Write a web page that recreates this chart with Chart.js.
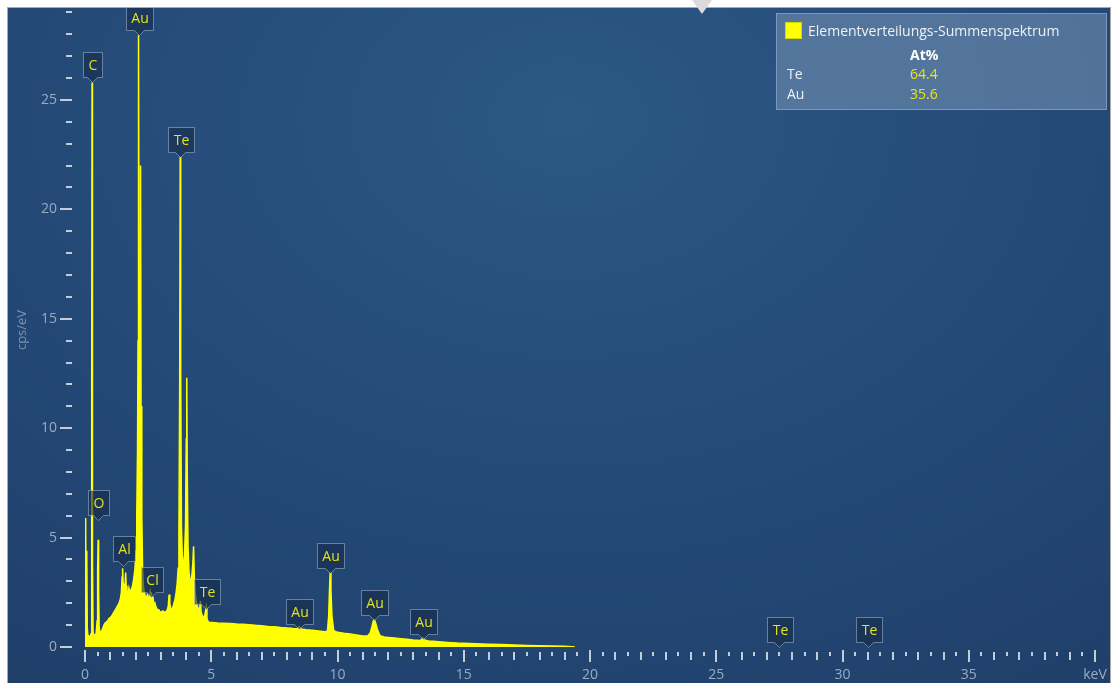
<!DOCTYPE html>
<html>
<head>
<meta charset="utf-8">
<title>Elementverteilungs-Summenspektrum</title>
<script src="https://cdn.jsdelivr.net/npm/chart.js@4/dist/chart.umd.min.js"></script>
<style>
  html, body { margin: 0; padding: 0; background: #ffffff; }
  body { width: 1113px; height: 683px; position: relative; overflow: hidden;
         font-family: "Open Sans", "Noto Sans", sans-serif; }
  #panel { position: absolute; left: 8px; top: 8px; width: 1102px; height: 675px;
           background: radial-gradient(ellipse 950px 700px at 560px 110px, #2b5884 0%, #264d7c 40%, #1f3f69 100%);
           box-shadow: 0 0 0 1px #a9a9a9; }
  #spectrum { position: absolute; left: 0; top: 0; }
  #legend { position: absolute; left: 768px; top: 5px; width: 329px; height: 95px;
            background: rgba(112, 140, 174, 0.62); border: 1px solid rgba(160, 180, 205, 0.55);
            color: #eef2f7; font-size: 14px; }
  #legend .sw { position: absolute; left: 8px; top: 8px; width: 15px; height: 15px;
                background: #ffff00; border: 1px solid #d6d600; }
  #legend .t { position: absolute; white-space: nowrap; line-height: 18px; }
  #legend .y { color: #e6e61c; }
  #legend .b { font-weight: bold; color: #ffffff; }
  #pointer { position: absolute; left: 692px; top: 0; width: 0; height: 0;
             border-left: 10px solid transparent; border-right: 10px solid transparent;
             border-top: 14px solid #dadada; }
</style>
</head>
<body>
<div id="panel">
  <canvas id="spectrum" width="1102" height="675"></canvas>
  <div id="legend">
    <div class="sw"></div>
    <div class="t" style="left:31px;top:8px;">Elementverteilungs-Summenspektrum</div>
    <div class="t b" style="left:133px;top:32px;">At%</div>
    <div class="t" style="left:10px;top:51px;">Te</div>
    <div class="t y" style="left:133px;top:51px;">64.4</div>
    <div class="t" style="left:10px;top:71px;">Au</div>
    <div class="t y" style="left:133px;top:71px;">35.6</div>
  </div>
</div>
<div id="pointer"></div>

<script>
// EDS sum spectrum: energy (keV) and intensity (cps/eV)
const energyKeV = [
  0.00, 0.02, 0.03, 0.05, 0.07, 0.09, 0.12, 0.16, 0.20, 0.24,
  0.26, 0.27, 0.28, 0.29, 0.30, 0.32, 0.36, 0.40, 0.44, 0.48,
  0.50, 0.52, 0.54, 0.56, 0.60, 0.65, 0.70, 0.75, 0.80, 0.85,
  0.90, 0.95, 1.00, 1.05, 1.10, 1.15, 1.20, 1.25, 1.30, 1.35,
  1.40, 1.44, 1.47, 1.49, 1.51, 1.54, 1.58, 1.61, 1.63, 1.66,
  1.70, 1.74, 1.78, 1.82, 1.86, 1.90, 1.94, 1.98, 2.02, 2.05,
  2.08, 2.10, 2.12, 2.14, 2.16, 2.18, 2.20, 2.22, 2.25, 2.28,
  2.31, 2.35, 2.39, 2.43, 2.47, 2.51, 2.55, 2.58, 2.61, 2.63,
  2.66, 2.69, 2.73, 2.77, 2.82, 2.87, 2.92, 2.97, 3.02, 3.08,
  3.14, 3.20, 3.26, 3.30, 3.33, 3.36, 3.40, 3.45, 3.50, 3.55,
  3.60, 3.65, 3.69, 3.72, 3.75, 3.77, 3.79, 3.82, 3.86, 3.90,
  3.94, 3.98, 4.01, 4.03, 4.05, 4.08, 4.12, 4.17, 4.22, 4.27,
  4.30, 4.33, 4.37, 4.42, 4.47, 4.52, 4.55, 4.57, 4.60, 4.65,
  4.70, 4.75, 4.80, 4.83, 4.88, 4.95, 5.05, 5.25, 5.50, 5.75,
  6.00, 6.25, 6.50, 6.75, 7.00, 7.25, 7.50, 7.75, 8.00, 8.25,
  8.42, 8.49, 8.56, 8.75, 9.00, 9.25, 9.50, 9.60, 9.65, 9.68,
  9.71, 9.74, 9.78, 9.85, 10.00, 10.25, 10.50, 10.75, 11.00, 11.20,
  11.30, 11.37, 11.42, 11.46, 11.51, 11.58, 11.68, 11.85, 12.00, 12.25,
  12.50, 12.75, 13.00, 13.25, 13.33, 13.38, 13.44, 13.60, 13.80, 14.00,
  14.25, 14.50, 14.75, 15.00, 15.50, 16.00, 16.50, 17.00, 17.50, 18.00,
  18.50, 19.00, 19.40
];
const countsPerEV = [
  0.2, 2.5, 5.9, 0.8, 4.4, 0.9, 0.4, 0.5, 0.45, 0.6,
  3.0, 12.0, 25.8, 15.0, 4.0, 0.7, 0.5, 0.55, 0.6, 1.2,
  3.5, 4.9, 2.6, 0.9, 0.65, 0.7, 0.85, 1.0, 1.1, 1.15,
  1.2, 1.3, 1.35, 1.4, 1.5, 1.6, 1.7, 1.8, 1.9, 2.0,
  2.2, 2.5, 3.2, 3.6, 2.9, 2.4, 2.6, 3.4, 2.8, 2.3,
  2.4, 2.7, 2.5, 2.6, 2.7, 2.9, 3.2, 3.6, 4.4, 6.0,
  9.0, 14.0, 27.95, 17.0, 9.0, 12.0, 22.0, 11.0, 6.0, 3.6,
  2.8, 2.5, 2.3, 2.2, 2.4, 2.2, 2.3, 2.5, 2.2, 2.5,
  2.1, 2.3, 1.9, 2.0, 1.8, 1.7, 1.7, 1.6, 1.6, 1.65,
  1.6, 1.6, 1.7, 1.9, 2.4, 2.0, 1.7, 1.75, 1.9, 2.1,
  2.4, 2.9, 3.6, 5.5, 12.0, 22.4, 12.5, 5.5, 3.9, 3.8,
  4.2, 5.5, 9.5, 12.3, 8.0, 4.6, 3.4, 3.0, 3.1, 3.8,
  4.6, 3.2, 2.4, 2.0, 1.8, 1.7, 1.9, 2.1, 1.6, 1.4,
  1.35, 1.5, 1.8, 1.3, 1.15, 1.12, 1.12, 1.10, 1.09, 1.07,
  1.05, 1.04, 1.02, 0.99, 0.97, 0.94, 0.92, 0.89, 0.87, 0.84,
  0.83, 0.93, 0.82, 0.79, 0.76, 0.73, 0.70, 0.72, 1.4, 2.5,
  3.4, 2.6, 1.4, 0.75, 0.67, 0.63, 0.60, 0.55, 0.50, 0.50,
  0.65, 0.95, 1.2, 1.25, 1.1, 0.8, 0.52, 0.46, 0.44, 0.41,
  0.38, 0.35, 0.32, 0.30, 0.33, 0.42, 0.32, 0.28, 0.26, 0.24,
  0.22, 0.20, 0.18, 0.17, 0.15, 0.13, 0.11, 0.09, 0.07, 0.06,
  0.05, 0.03, 0.0
];

// Element line markers: symbol, line energy (keV), marker tip height (cps/eV)
const markerElements = ['C', 'O', 'Al', 'Au', 'Cl', 'Te', 'Te', 'Au', 'Au', 'Au', 'Au', 'Te', 'Te'];
const markerEnergy   = [0.277, 0.525, 1.486, 2.12, 2.62, 3.77, 4.80, 8.49, 9.71, 11.44, 13.38, 27.47, 31.0];
const markerHeight   = [25.8, 5.8, 3.7, 27.95, 2.3, 22.4, 1.75, 0.8, 3.4, 1.25, 0.35, 0.0, 0.0];

// Axis ticks
const xMajorTicks  = [0, 5, 10, 15, 20, 25, 30, 35, 40];
const xTickLabels  = ['0', '5', '10', '15', '20', '25', '30', '35', 'keV'];
const xMinorStep   = 0.5;
const yMajorTicks  = [0, 5, 10, 15, 20, 25];
const yTickLabels  = ['0', '5', '10', '15', '20', '25'];
const yMinorStep   = 1;
const yAxisTitle   = 'cps/eV';

const FONT = '"Open Sans", "Noto Sans", sans-serif';

const axisPlugin = {
  id: 'edsAxes',
  afterDraw(chart) {
    const { ctx, chartArea, scales: { x, y } } = chart;
    ctx.save();
    ctx.fillStyle = '#c3ccd9';
    // y ticks
    for (let v = 0; v <= y.max + 1e-9; v += yMinorStep) {
      const py = Math.round(y.getPixelForValue(v));
      const major = yMajorTicks.includes(Math.round(v * 100) / 100);
      if (major) ctx.fillRect(chartArea.left - 25, py - 1, 12, 2);
      else ctx.fillRect(chartArea.left - 19, py - 1, 6, 2);
    }
    // x ticks
    const base = Math.round(y.getPixelForValue(0));
    for (let v = 0; v <= x.max + 1e-9; v += xMinorStep) {
      const px = Math.round(x.getPixelForValue(v));
      const r = Math.round(v * 100) / 100;
      if (xMajorTicks.includes(r)) ctx.fillRect(px - 1, base + 3, 2, 12);
      else if (Number.isInteger(r)) ctx.fillRect(px - 1, base + 5, 2, 8);
      else ctx.fillRect(px - 1, base + 5, 2, 4);
    }
    // tick labels
    ctx.fillStyle = '#9aabc2';
    ctx.font = '14px ' + FONT;
    ctx.textAlign = 'right';
    ctx.textBaseline = 'middle';
    yMajorTicks.forEach((v, i) => {
      ctx.fillText(yTickLabels[i], chartArea.left - 28, y.getPixelForValue(v));
    });
    ctx.textAlign = 'center';
    xMajorTicks.forEach((v, i) => {
      ctx.fillText(xTickLabels[i], x.getPixelForValue(v), base + 28);
    });
    // axis title
    ctx.fillStyle = '#7f93ae';
    ctx.font = '13px ' + FONT;
    ctx.translate(14, 322);
    ctx.rotate(-Math.PI / 2);
    ctx.fillText(yAxisTitle, 0, 0);
    ctx.restore();
  }
};

const markerPlugin = {
  id: 'elementMarkers',
  afterDatasetsDraw(chart) {
    const { ctx, scales: { x, y } } = chart;
    ctx.save();
    ctx.font = '14px ' + FONT;
    markerElements.forEach((el, i) => {
      const px = Math.round(x.getPixelForValue(markerEnergy[i])) + 0.5;
      const tip = Math.round(y.getPixelForValue(markerHeight[i])) + 0.5;
      const w = Math.max(18, Math.round(ctx.measureText(el).width) + 10);
      const h = 25;
      const bottom = tip - 5;
      const top = bottom - h;
      const l = Math.round(px - w / 2) + 0.5;
      const r = l + w;
      ctx.beginPath();
      ctx.moveTo(l, top);
      ctx.lineTo(r, top);
      ctx.lineTo(r, bottom);
      ctx.lineTo(px + 5, bottom);
      ctx.lineTo(px, tip);
      ctx.lineTo(px - 5, bottom);
      ctx.lineTo(l, bottom);
      ctx.closePath();
      ctx.fillStyle = 'rgba(22, 44, 74, 0.62)';
      ctx.fill();
      ctx.strokeStyle = 'rgba(180, 198, 222, 0.5)';
      ctx.lineWidth = 1;
      ctx.stroke();
      ctx.fillStyle = '#e2e21e';
      ctx.textAlign = 'center';
      ctx.textBaseline = 'middle';
      ctx.fillText(el, (l + r) / 2, (top + bottom) / 2 + 1);
    });
    ctx.restore();
  }
};

new Chart(document.getElementById('spectrum'), {
  type: 'line',
  data: {
    datasets: [{
      label: 'Elementverteilungs-Summenspektrum',
      data: energyKeV.map((e, i) => ({ x: e, y: countsPerEV[i] })),
      borderColor: '#ffff00',
      backgroundColor: '#ffff00',
      borderWidth: 1.5,
      fill: 'origin',
      pointRadius: 0,
      tension: 0
    }]
  },
  options: {
    responsive: false,
    animation: false,
    devicePixelRatio: 1,
    layout: { padding: { left: 77, right: 15, top: 0, bottom: 36 } },
    plugins: { legend: { display: false }, tooltip: { enabled: false } },
    scales: {
      x: { type: 'linear', min: 0, max: 40, display: false },
      y: { type: 'linear', min: 0, max: 29.2, display: false }
    }
  },
  plugins: [axisPlugin, markerPlugin]
});
</script>
</body>
</html>
